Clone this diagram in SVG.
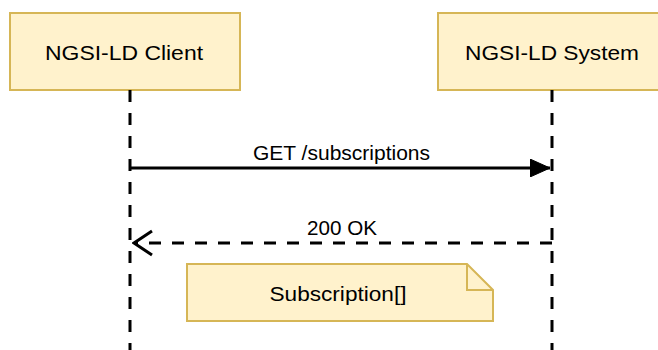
<svg xmlns="http://www.w3.org/2000/svg" width="658" height="350" viewBox="0 0 658 350">
<defs>
<style>
.box{fill:#fff2cc;stroke:#d6b656;stroke-width:2}
.lbl{font-family:"Liberation Sans",Arial,sans-serif;font-size:21px;fill:#000;text-anchor:middle}
.life{stroke:#000;stroke-width:3;stroke-dasharray:12 11;fill:none}
.msg{stroke:#000;stroke-width:3;fill:none}
</style>
<marker id="block" viewBox="0 0 20 18" refX="20" refY="9" markerWidth="20" markerHeight="18" markerUnits="userSpaceOnUse" orient="auto">
<path d="M0,0 L20,9 L0,18 Z" fill="#000" stroke="#000" stroke-width="1" stroke-linejoin="round"/>
</marker>
<marker id="open" viewBox="0 0 22 28" refX="20" refY="14" markerWidth="22" markerHeight="28" markerUnits="userSpaceOnUse" orient="auto">
<path d="M2,2 L20,14 L2,26" fill="none" stroke="#000" stroke-width="3"/>
</marker>
</defs>
<g id="client">
<rect class="box" x="10" y="13" width="230" height="77"/>
<text class="lbl" x="124" y="60" textLength="158" lengthAdjust="spacingAndGlyphs">NGSI-LD Client</text>
</g>
<g id="system">
<rect class="box" x="438" y="13" width="230" height="77"/>
<text class="lbl" x="552" y="60" textLength="174" lengthAdjust="spacingAndGlyphs">NGSI-LD System</text>
</g>
<g id="connectors">
<line class="life" x1="130" y1="90" x2="130" y2="350"/>
<line class="life" x1="552" y1="90" x2="552" y2="350"/>
<line class="msg" x1="130" y1="168" x2="550" y2="168" marker-end="url(#block)"/>
<text class="lbl" x="341.5" y="160" textLength="177" lengthAdjust="spacingAndGlyphs">GET /subscriptions</text>
<line class="msg" x1="552" y1="243" x2="134" y2="243" marker-end="url(#open)" style="stroke-dasharray:12 11"/>
<text class="lbl" x="342" y="235" textLength="70" lengthAdjust="spacingAndGlyphs">200 OK</text>
</g>
<g id="note">
<path class="box" d="M187,264 H467 L493,290 V321 H187 Z"/>
<path d="M467,264 V290 H493" fill="none" stroke="#d6b656" stroke-width="2"/>
<text class="lbl" x="338" y="301" textLength="137" lengthAdjust="spacingAndGlyphs">Subscription[]</text>
</g>
</svg>
